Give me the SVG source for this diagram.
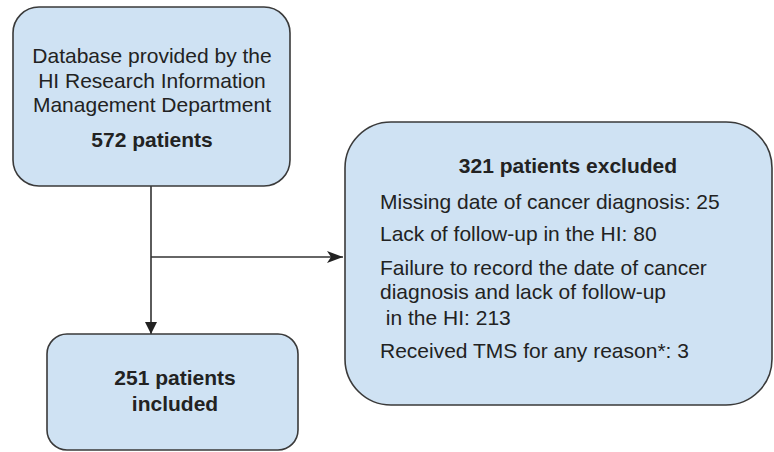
<svg xmlns="http://www.w3.org/2000/svg" width="774" height="452" viewBox="0 0 774 452">
<style>
.box{fill:#cfe2f3;stroke:#3a3a3a;stroke-width:1.6}
.t{font-family:"Liberation Sans",Arial,sans-serif;font-size:21px;fill:#222}
.b{font-weight:bold}
.c{text-anchor:middle}
.line{stroke:#333;stroke-width:1.6;fill:none}
</style>
<defs>
<marker id="tri" viewBox="0 0 12 12" refX="12" refY="6" markerWidth="12" markerHeight="12" markerUnits="userSpaceOnUse" orient="auto">
<path d="M0,0 L12,6 L0,12 Z" fill="#222"/>
</marker>
<marker id="barb" viewBox="0 0 16 12" refX="16" refY="6" markerWidth="16" markerHeight="12" markerUnits="userSpaceOnUse" orient="auto">
<path d="M0,0 L16,6 L0,12 L4,6 Z" fill="#222"/>
</marker>
</defs>
<g id="connectors">
<path class="line" d="M151,186 V334" marker-end="url(#tri)"/>
<path class="line" d="M151,257 H343" marker-end="url(#barb)"/>
</g>
<g id="source">
<rect class="box" x="13" y="7" width="277" height="179" rx="26"/>
<text class="t c" x="152" y="63">Database provided by the</text>
<text class="t c" x="152" y="88">HI Research Information</text>
<text class="t c" x="152" y="112">Management Department</text>
<text class="t b c" x="152" y="147">572 patients</text>
</g>
<g id="excluded">
<rect class="box" x="345" y="122" width="427" height="283" rx="46"/>
<text class="t b c" x="568" y="173">321 patients excluded</text>
<text class="t" x="380" y="209">Missing date of cancer diagnosis: 25</text>
<text class="t" x="380" y="241">Lack of follow-up in the HI: 80</text>
<text class="t" x="380" y="275">Failure to record the date of cancer</text>
<text class="t" x="380" y="299">diagnosis and lack of follow-up</text>
<text class="t" x="380" y="325" xml:space="preserve"> in the HI: 213</text>
<text class="t" x="380" y="358">Received TMS for any reason*: 3</text>
</g>
<g id="included">
<rect class="box" x="47" y="334" width="251" height="116" rx="20"/>
<text class="t b c" x="175" y="385">251 patients</text>
<text class="t b c" x="175" y="411">included</text>
</g>
</svg>
